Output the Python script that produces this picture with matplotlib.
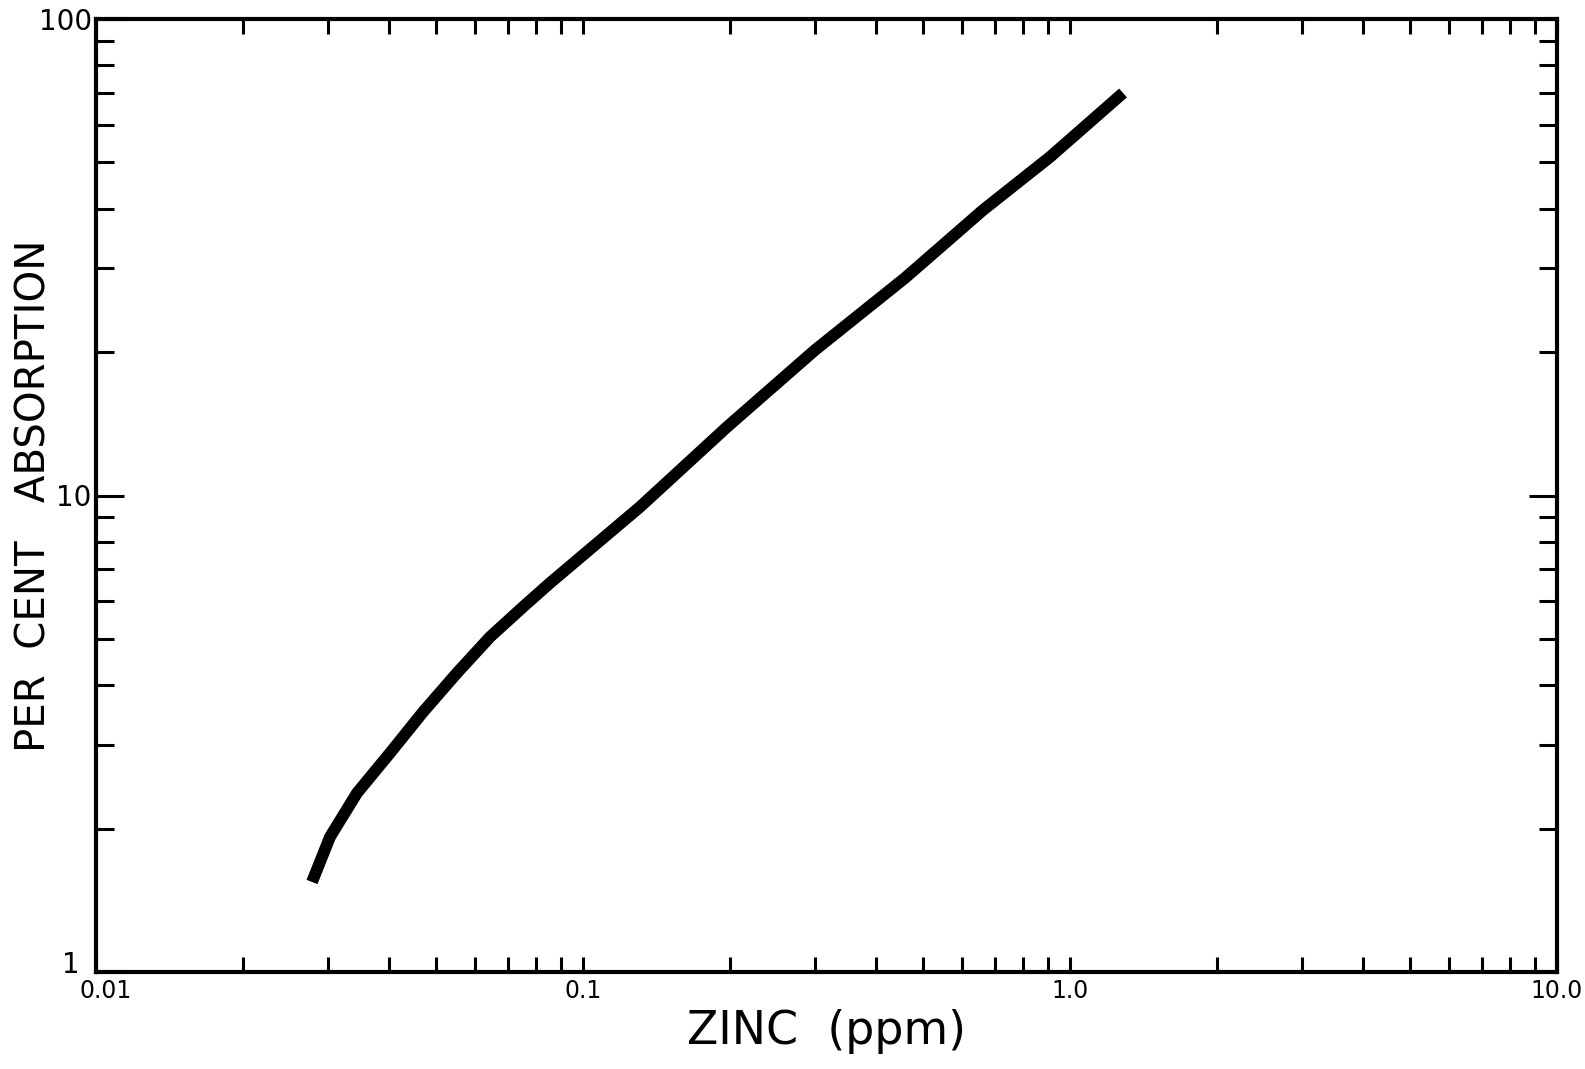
import matplotlib
matplotlib.use("Agg")
import matplotlib.pyplot as plt
import matplotlib.transforms as mtransforms
from matplotlib.ticker import LogLocator, NullFormatter, FixedLocator

# Data
zinc_ppm = [0.02777, 0.03023, 0.03435, 0.04016, 0.04693, 0.05511, 0.06442, 0.07527,
            0.08553, 0.1309, 0.1975, 0.2996, 0.4584, 0.6630, 0.9097, 1.285]
percent_absorption = [1.545, 1.920, 2.375, 2.882, 3.512, 4.242, 5.047, 5.834,
                      6.55, 9.46, 13.92, 20.20, 28.61, 39.73, 51.33, 69.94]

x_ticks = [0.01, 0.1, 1.0, 10.0]
x_tick_labels = ["0.01", "0.1", "1.0", "10.0"]
y_ticks = [1, 10, 100]
y_tick_labels = ["1", "10", "100"]

W, H = 1585, 1069
fig = plt.figure(figsize=(W / 100, H / 100), dpi=100)
ax = fig.add_axes([96 / W, 1 - 972 / H, (1557 - 96) / W, (972 - 19) / H])

ax.plot(zinc_ppm, percent_absorption, color="black", lw=8.5,
        solid_capstyle="butt", solid_joinstyle="round")
ax.set_xscale("log")
ax.set_yscale("log")
ax.set_xlim(0.01, 10)
ax.set_ylim(1, 100)

for s in ax.spines.values():
    s.set_linewidth(3)

ax.xaxis.set_major_locator(FixedLocator(x_ticks))
ax.set_xticklabels(x_tick_labels)
ax.yaxis.set_major_locator(FixedLocator(y_ticks))
ax.set_yticklabels(y_tick_labels)
ax.xaxis.set_minor_locator(LogLocator(base=10, subs=range(2, 10)))
ax.yaxis.set_minor_locator(LogLocator(base=10, subs=range(2, 10)))
ax.xaxis.set_minor_formatter(NullFormatter())
ax.yaxis.set_minor_formatter(NullFormatter())

ax.tick_params(which="both", direction="in", top=True, right=True, width=2.2, colors="black")
ax.tick_params(axis="x", which="major", length=11, labelsize=17, pad=5)
ax.tick_params(axis="x", which="minor", length=11)
ax.tick_params(axis="y", which="major", length=20, labelsize=20, pad=3)
ax.tick_params(axis="y", which="minor", length=13)

# nudge the corner labels apart as in the reference
xt0 = ax.xaxis.get_major_ticks()[0].label1
xt0.set_transform(xt0.get_transform() + mtransforms.ScaledTranslation(0.10, 0, fig.dpi_scale_trans))
yt0 = ax.yaxis.get_major_ticks()[0].label1
yt0.set_transform(yt0.get_transform() + mtransforms.ScaledTranslation(-0.12, 0.10, fig.dpi_scale_trans))

ax.set_xlabel("ZINC  (ppm)", fontsize=33)
ax.xaxis.set_label_coords(0.5, -0.062)
ax.xaxis.label.set_va("center")
ax.set_ylabel("PER  CENT   ABSORPTION", fontsize=29, va="center")
ax.yaxis.set_label_coords(-0.042, 0.5)

fig.savefig("out.png", dpi=100, facecolor="white")
